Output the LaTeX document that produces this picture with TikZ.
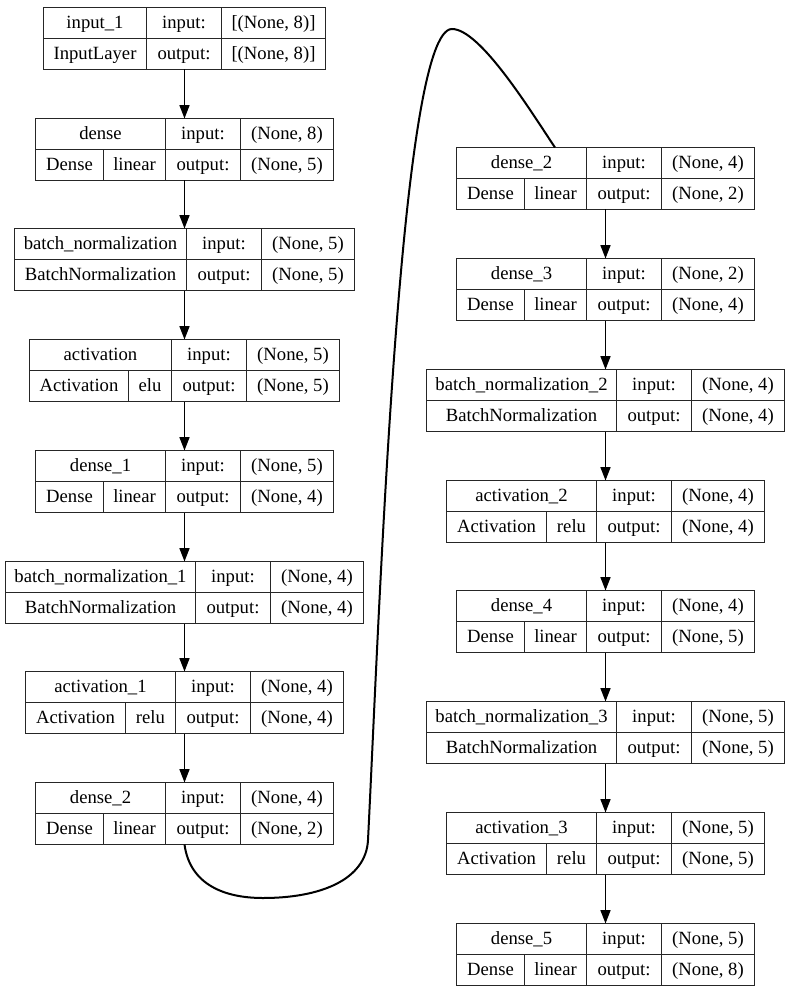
\documentclass[tikz,border=0pt]{standalone}
\usepackage{fontspec}
\setmainfont{Liberation Serif}
\usepackage{tikz}
\usetikzlibrary{arrows.meta}

\tikzset{
  layerbox/.style={draw=black!85, line width=0.75pt, rectangle, inner sep=0pt, outer sep=0pt, minimum height=46.5pt},
  cellline/.style={draw=black!85, line width=0.75pt},
  celltext/.style={font=\rmfamily\fontsize{14pt}{16pt}\selectfont, inner sep=0pt, text height=10.5pt, text depth=2.5pt},
  flow/.style={line width=1pt, -{Triangle[length=10pt,width=7.5pt]}},
  skipflow/.style={line width=1.5pt},
}

% layer with name | input: | shape  over  class | output: | shape
\newcommand{\plainlayer}[8]{%
  \begin{scope}[shift={#2}]
    \pgfmathsetmacro{\W}{#3+75+#4}
    \pgfmathsetmacro{\Wpt}{0.75*\W}
    \pgfmathsetmacro{\xa}{-\W/2}
    \pgfmathsetmacro{\xb}{\xa+#3}
    \pgfmathsetmacro{\xc}{\xb+75}
    \pgfmathsetmacro{\xd}{\W/2}
    \node[layerbox, minimum width=\Wpt pt, anchor=north] (#1) at (0,0) {};
    \draw[cellline] (\xa,31) -- (\xd,31);
    \draw[cellline] (\xb,0) -- (\xb,62);
    \draw[cellline] (\xc,0) -- (\xc,62);
    \node[celltext] (#1-lab) at ({(\xa+\xb)/2},15.5) {#5};
    \node[celltext] (#1-cls) at ({(\xa+\xb)/2},46.5) {#6};
    \node[celltext] (#1-inl) at ({(\xb+\xc)/2},15.5) {input:};
    \node[celltext] (#1-outl) at ({(\xb+\xc)/2},46.5) {output:};
    \node[celltext] (#1-ins) at ({(\xc+\xd)/2},15.5) {#7};
    \node[celltext] (#1-outs) at ({(\xc+\xd)/2},46.5) {#8};
  \end{scope}}

% same, with the class cell split into class | activation
\newcommand{\actlayer}[9]{%
  \begin{scope}[shift={#2}]
    \pgfmathsetmacro{\W}{#3+75+93}
    \pgfmathsetmacro{\Wpt}{0.75*\W}
    \pgfmathsetmacro{\xa}{-\W/2}
    \pgfmathsetmacro{\xb}{\xa+#3}
    \pgfmathsetmacro{\xc}{\xb+75}
    \pgfmathsetmacro{\xd}{\W/2}
    \pgfmathsetmacro{\xs}{\xa+#4}
    \node[layerbox, minimum width=\Wpt pt, anchor=north] (#1) at (0,0) {};
    \draw[cellline] (\xa,31) -- (\xd,31);
    \draw[cellline] (\xb,0) -- (\xb,62);
    \draw[cellline] (\xc,0) -- (\xc,62);
    \draw[cellline] (\xs,31) -- (\xs,62);
    \node[celltext] (#1-lab) at ({(\xa+\xb)/2},15.5) {#5};
    \node[celltext] (#1-cls) at ({(\xa+\xs)/2},46.5) {#6};
    \node[celltext] (#1-fn) at ({(\xs+\xb)/2},46.5) {#7};
    \node[celltext] (#1-inl) at ({(\xb+\xc)/2},15.5) {input:};
    \node[celltext] (#1-outl) at ({(\xb+\xc)/2},46.5) {output:};
    \node[celltext] (#1-ins) at ({(\xc+\xd)/2},15.5) {#8};
    \node[celltext] (#1-outs) at ({(\xc+\xd)/2},46.5) {#9};
  \end{scope}}

\begin{document}
\begin{tikzpicture}[x=0.75pt,y=-0.75pt]
        \useasboundingbox (0,0) rectangle (791,991);
        % left column
        \plainlayer{input1}{(184.5,7.5)}{103}{104}{input\_1}{InputLayer}{[(None, 8)]}{[(None, 8)]}
        \actlayer{dense}{(184.5,118.5)}{130}{68}{dense}{Dense}{linear}{(None, 8)}{(None, 5)}
        \plainlayer{bnorm}{(184.5,228.5)}{172}{93}{batch\_normalization}{BatchNormalization}{(None, 5)}{(None, 5)}
        \actlayer{act}{(184.5,339.5)}{142}{99}{activation}{Activation}{elu}{(None, 5)}{(None, 5)}
        \actlayer{dense1}{(184.5,450.5)}{130}{68}{dense\_1}{Dense}{linear}{(None, 5)}{(None, 4)}
        \plainlayer{bnorm1}{(184.5,561.5)}{190}{93}{batch\_normalization\_1}{BatchNormalization}{(None, 4)}{(None, 4)}
        \actlayer{act1}{(184.5,671.5)}{150}{100}{activation\_1}{Activation}{relu}{(None, 4)}{(None, 4)}
        \actlayer{dense2}{(184.5,782.5)}{130}{68}{dense\_2}{Dense}{linear}{(None, 4)}{(None, 2)}
        % right column
        \actlayer{dense2b}{(605.5,147.5)}{130}{68}{dense\_2}{Dense}{linear}{(None, 4)}{(None, 2)}
        \actlayer{dense3}{(605.5,258.5)}{130}{68}{dense\_3}{Dense}{linear}{(None, 2)}{(None, 4)}
        \plainlayer{bnorm2}{(605.5,369.5)}{190}{93}{batch\_normalization\_2}{BatchNormalization}{(None, 4)}{(None, 4)}
        \actlayer{act2}{(605.5,480.5)}{150}{100}{activation\_2}{Activation}{relu}{(None, 4)}{(None, 4)}
        \actlayer{dense4}{(605.5,590.5)}{130}{68}{dense\_4}{Dense}{linear}{(None, 4)}{(None, 5)}
        \plainlayer{bnorm3}{(605.5,701.5)}{190}{93}{batch\_normalization\_3}{BatchNormalization}{(None, 5)}{(None, 5)}
        \actlayer{act3}{(605.5,812.5)}{150}{100}{activation\_3}{Activation}{relu}{(None, 5)}{(None, 5)}
        \actlayer{dense5}{(605.5,923.5)}{130}{68}{dense\_5}{Dense}{linear}{(None, 5)}{(None, 8)}
        % arrows
        \draw[flow] (input1.south) -- (dense.north);
        \draw[flow] (dense.south) -- (bnorm.north);
        \draw[flow] (bnorm.south) -- (act.north);
        \draw[flow] (act.south) -- (dense1.north);
        \draw[flow] (dense1.south) -- (bnorm1.north);
        \draw[flow] (bnorm1.south) -- (act1.north);
        \draw[flow] (act1.south) -- (dense2.north);
        \draw[flow] (dense2b.south) -- (dense3.north);
        \draw[flow] (dense3.south) -- (bnorm2.north);
        \draw[flow] (bnorm2.south) -- (act2.north);
        \draw[flow] (act2.south) -- (dense4.north);
        \draw[flow] (dense4.south) -- (bnorm3.north);
        \draw[flow] (bnorm3.south) -- (act3.north);
        \draw[flow] (act3.south) -- (dense5.north);
        \draw[skipflow] (dense2.south) .. controls (190,885) and (225,898) .. (263,898)
            .. controls (320,898) and (366,880) .. (368,840)
            .. controls (380,600) and (400,29) .. (452,29)
            .. controls (480,29) and (530,110) .. ([xshift=-37.9pt]dense2b.north);
    \end{tikzpicture}
\end{document}
